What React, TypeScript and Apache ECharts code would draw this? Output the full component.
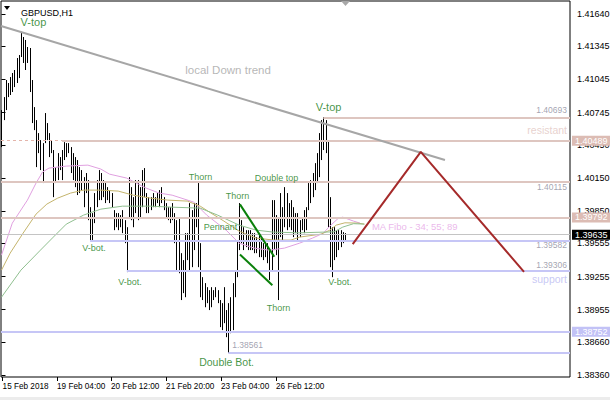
import React, { useEffect, useRef } from 'react';
import * as echarts from 'echarts';

const symbolTitle = 'GBPUSD,H1';

// hourly bars: high / low prices (bar index = hour step)
const barHigh = [
  1.40767, 1.40885, 1.41040, 1.41013, 1.41067, 1.41104, 1.41131, 1.41240, 1.41267, 1.41467,
  1.41431, 1.41404, 1.41340, 1.41331, 1.41040, 1.40794, 1.40676, 1.40558, 1.40494, 1.40467,
  1.40740, 1.40649, 1.40558, 1.40494, 1.40404, 1.40249, 1.40376, 1.40340, 1.40404, 1.40476,
  1.40467, 1.40467, 1.40431, 1.40376, 1.40340, 1.40313, 1.40249, 1.40222, 1.40158, 1.40195,
  1.40131, 1.39885, 1.39831, 1.40013, 1.40131, 1.40222, 1.40195, 1.40131, 1.40104, 1.40067,
  1.40040, 1.40013, 1.39858, 1.39831, 1.39831, 1.39813, 1.39858, 1.39767, 1.39703, 1.40158,
  1.40067, 1.39976, 1.40131, 1.40131, 1.40067, 1.40222, 1.40240, 1.40013, 1.39976, 1.39976,
  1.40013, 1.39976, 1.40013, 1.40040, 1.40067, 1.39976, 1.39922, 1.39885, 1.39885, 1.39922,
  1.39831, 1.39767, 1.39795, 1.39467, 1.39404, 1.39649, 1.39649, 1.39922, 1.39858, 1.39922,
  1.39922, 1.40104, 1.39558, 1.39249, 1.39195, 1.39158, 1.39131, 1.39158, 1.39131, 1.39158,
  1.39131, 1.39041, 1.39013, 1.39158, 1.38950, 1.39013, 1.39067, 1.39195, 1.39313, 1.39586,
  1.39922, 1.39767, 1.39703, 1.39676, 1.39676, 1.39676, 1.39649, 1.39649, 1.39613, 1.39649,
  1.39613, 1.39558, 1.39586, 1.39558, 1.39495, 1.39949, 1.39949, 1.39813, 1.39795, 1.40013,
  1.39885, 1.40067, 1.40013, 1.39922, 1.39949, 1.39885, 1.39831, 1.39831, 1.39767, 1.39795,
  1.39858, 1.39885, 1.40104, 1.40131, 1.40195, 1.40285, 1.40376, 1.40558, 1.40676, 1.40704,
  1.40676, 1.40494, 1.39976, 1.39703, 1.39703, 1.39676, 1.39676, 1.39676, 1.39658, 1.39649,
];
const barLow = [
  1.40431, 1.40676, 1.40767, 1.40885, 1.40904, 1.40931, 1.40976, 1.41013, 1.41058, 1.41249,
  1.41195, 1.41131, 1.41195, 1.40931, 1.40649, 1.40585, 1.40249, 1.40376, 1.40222, 1.40104,
  1.40467, 1.40494, 1.40340, 1.40376, 1.39976, 1.40104, 1.40131, 1.40222, 1.40131, 1.40313,
  1.40340, 1.40376, 1.40195, 1.40131, 1.40067, 1.39995, 1.40013, 1.40040, 1.39885, 1.40013,
  1.39767, 1.39586, 1.39586, 1.39740, 1.39885, 1.39949, 1.39949, 1.39976, 1.39922, 1.39949,
  1.39922, 1.39885, 1.39676, 1.39703, 1.39676, 1.39703, 1.39649, 1.39558, 1.39295, 1.39795,
  1.39767, 1.39703, 1.39831, 1.39767, 1.39795, 1.39885, 1.39976, 1.39831, 1.39831, 1.39858,
  1.39885, 1.39885, 1.39922, 1.39885, 1.39922, 1.39858, 1.39795, 1.39767, 1.39740, 1.39767,
  1.39558, 1.39313, 1.39285, 1.39041, 1.39104, 1.39067, 1.39404, 1.39313, 1.39340, 1.39495,
  1.39703, 1.39340, 1.39067, 1.39041, 1.38976, 1.39013, 1.38950, 1.38976, 1.39041, 1.39067,
  1.39013, 1.38795, 1.38768, 1.38831, 1.38704, 1.38561, 1.38740, 1.38768, 1.39067, 1.39249,
  1.39495, 1.39558, 1.39495, 1.39522, 1.39495, 1.39495, 1.39495, 1.39467, 1.39467, 1.39431,
  1.39431, 1.39404, 1.39431, 1.39376, 1.39222, 1.39313, 1.39495, 1.39449, 1.39041, 1.39613,
  1.39586, 1.39703, 1.39676, 1.39703, 1.39676, 1.39613, 1.39649, 1.39586, 1.39613, 1.39676,
  1.39649, 1.39676, 1.39858, 1.39922, 1.39976, 1.40040, 1.40104, 1.40158, 1.40313, 1.40404,
  1.40376, 1.39703, 1.39340, 1.39249, 1.39404, 1.39431, 1.39495, 1.39522, 1.39558, 1.39586,
];

// time axis labels (bar positions where the labels sit)
const timeTickPos = [0.5, 25.7, 50.7, 76.2, 101.6, 127.1];
const timeTickLabels = ['15 Feb 2018', '19 Feb 04:00', '20 Feb 12:00', '21 Feb 20:00', '23 Feb 04:00', '26 Feb 12:00'];

// price axis labels
const priceTicks = [1.41640, 1.41345, 1.41045, 1.40745, 1.40450, 1.40150, 1.39850, 1.39555, 1.39255, 1.38955, 1.38660, 1.38360];

// moving averages (MA Fibo 34; 55; 89), sampled [bar, price]
const ma34 = [
  [0, 1.39449], [5, 1.39740], [12, 1.39949], [16, 1.40104], [19, 1.40204], [22, 1.40240], [30, 1.40258],
  [40, 1.40267], [46, 1.40231], [50, 1.40185], [58, 1.40149], [67, 1.40058], [73, 1.40013], [79, 1.39994],
  [89, 1.39931], [95, 1.39813], [104, 1.39676], [110, 1.39558], [117, 1.39513], [124, 1.39494], [131, 1.39513],
  [138, 1.39558], [144, 1.39604], [149, 1.39649], [152, 1.39713], [156, 1.39785], [158, 1.39794], [163, 1.39758],
  [166, 1.39740],
];
const ma55 = [
  [0, 1.39313], [4, 1.39467], [10, 1.39649], [16, 1.39822], [21, 1.39913], [26, 1.39967], [32, 1.40013],
  [38, 1.40040], [46, 1.40040], [54, 1.40031], [61, 1.39994], [69, 1.39967], [77, 1.39949], [86, 1.39940],
  [92, 1.39894], [97, 1.39831], [103, 1.39758], [110, 1.39667], [118, 1.39604], [126, 1.39586], [134, 1.39586],
  [138, 1.39613], [148, 1.39640], [152, 1.39676], [155, 1.39722], [159, 1.39743], [165, 1.39740], [168, 1.39731],
];
const ma89 = [
  [0, 1.39067], [9, 1.39313], [18, 1.39494], [24, 1.39613], [30, 1.39731], [38, 1.39813], [46, 1.39867],
  [56, 1.39894], [69, 1.39894], [79, 1.39885], [92, 1.39876], [100, 1.39813], [110, 1.39722], [118, 1.39676],
  [126, 1.39658], [138, 1.39652], [154, 1.39661], [158, 1.39704], [163, 1.39735], [168, 1.39731],
];

// drawn objects
const trendLine = [[-0.23, 1.41531], [205.3, 1.40313]];
const forecastPath = [[162.6, 1.39549], [194.1, 1.40388], [241.9, 1.39297]];
const pennantUpper = [[110.4, 1.39910], [126.3, 1.39434]];
const pennantLower = [[110.4, 1.39455], [125.4, 1.39176]];

// horizontal levels
const levelPrices = [1.40693, 1.40489, 1.40115, 1.39792, 1.39635, 1.39582, 1.39306, 1.38752, 1.38561];
const levelStartBar = [149, 28, -0.23, -0.23, -0.23, 41, 58, -0.23, 105];
const levelKind = ['res', 'res', 'res', 'res', 'cur', 'sup', 'sup', 'sup', 'sup'];
const levelTagged = [false, true, false, true, true, false, false, true, false];
const resistantDashFrom = -0.23;
const resistantDashTo = 28;

// text notes anchored at [bar, price]
const noteTexts = ['V-top', 'local Down trend', 'V-top', 'Thorn', 'Double top', 'Thorn', 'Pennant', 'V-bot.', 'V-bot.', 'V-bot.',
  'Thorn', 'Double Bot.', '1.38561', 'MA Fibo - 34; 55; 89', 'resistant', 'support', '1.40693', '1.40115', '1.39582', '1.39306'];
const noteBars = [14.8, 104.9, 151.4, 92.1, 127.3, 109.3, 101.4, 42.8, 59.5, 156.7,
  128.2, 104.2, 113.9, 171.5, 261.8, 261.8, 261.8, 261.8, 261.8, 261.8];
const notePrices = [1.41567, 1.41131, 1.40794, 1.40158, 1.40149, 1.39985, 1.39704, 1.39513, 1.39204, 1.39204,
  1.38967, 1.38476, 1.38631, 1.39713, 1.40585, 1.39231, 1.40767, 1.40067, 1.39540, 1.39358];
const noteKind = ['big', 'trend', 'big', 'pat', 'pat', 'pat', 'pat', 'pat', 'pat', 'pat',
  'pat', 'bot', 'low', 'ma', 'res', 'sup', 'price', 'price', 'price', 'price'];

const FONT = '"Liberation Sans", Arial, sans-serif';
const PINK = '#dec6c0';
const LAV = '#c6c6f6';
const GREEN_TXT = '#127a12';

const noteStyles: Record<string, any> = {
  big: { color: GREEN_TXT, fontSize: 11, position: 'inside' },
  pat: { color: GREEN_TXT, fontSize: 9, position: 'inside' },
  bot: { color: GREEN_TXT, fontSize: 10.5, position: 'inside' },
  trend: { color: '#a4a4a4', fontSize: 11.5, position: 'inside' },
  price: { color: '#8c8c9c', fontSize: 8.5, position: 'left', distance: 0 },
  low: { color: '#8c8c9c', fontSize: 8.5, position: 'inside' },
  ma: { color: '#e6a6e6', fontSize: 9.5, position: 'right', distance: 0 },
  res: { color: '#e2c6c2', fontSize: 10.5, position: 'left', distance: 0 },
  sup: { color: '#babaf2', fontSize: 10.5, position: 'left', distance: 0 },
};

export default function App() {
  const ref = useRef<HTMLDivElement>(null);
  useEffect(() => {
    if (!ref.current) return;
    const chart = echarts.init(ref.current, null, { renderer: 'svg' });
    const xMin = -0.23;
    const xMax = 263.19;
    const yMin = 1.38342;
    const yMax = 1.41758;

    const bars = barHigh.map((h, i) => [i, h, barLow[i]]);

    const levelLineStyle = (k: string) => {
      if (k === 'res') return { color: PINK, width: 2, type: 'solid' };
      if (k === 'sup') return { color: LAV, width: 2, type: 'solid' };
      return { color: '#c4c4c4', width: 1, type: 'solid' };
    };
    const tagBg = (k: string) => (k === 'res' ? '#dcbcb4' : k === 'sup' ? '#c2c2f6' : '#000');

    const markData: any[] = levelPrices.map((p, i) => {
      const k = levelKind[i];
      const label = levelTagged[i]
        ? {
            show: true,
            position: 'end',
            distance: 2,
            formatter: () => p.toFixed(5),
            color: '#fff',
            backgroundColor: tagBg(k),
            fontSize: 9,
            fontFamily: FONT,
            padding: [1, 3, 0, 3],
          }
        : { show: false };
      return [
        { coord: [levelStartBar[i], p], lineStyle: levelLineStyle(k), label },
        { coord: [xMax, p] },
      ];
    });
    markData.push([
      { coord: [resistantDashFrom, levelPrices[1]], lineStyle: { color: '#e4b4aa', width: 1, type: [3, 3] }, label: { show: false } },
      { coord: [resistantDashTo, levelPrices[1]] },
    ]);

    const notes = noteTexts.map((t, i) => {
      const s = noteStyles[noteKind[i]];
      return {
        value: [noteBars[i], notePrices[i]],
        label: {
          show: true,
          formatter: t,
          color: s.color,
          fontSize: s.fontSize,
          fontFamily: FONT,
          position: s.position,
          distance: s.distance ?? 5,
        },
      };
    });

    const lineSeries = (data: number[][], color: string, width: number, z = 4) => ({
      type: 'line',
      data,
      symbol: 'none',
      silent: true,
      clip: true,
      z,
      lineStyle: { color, width },
    });

    const option: any = {
      animation: false,
      backgroundColor: '#fff',
      textStyle: { fontFamily: FONT },
      title: {
        text: symbolTitle,
        left: 16,
        top: 3,
        textStyle: { fontSize: 9, fontWeight: 'normal', color: '#000', fontFamily: FONT },
      },
      graphic: [
        { type: 'polygon', shape: { points: [[4, 6], [10, 6], [7, 10]] }, style: { fill: '#000' }, z: 10 },
        { type: 'polygon', shape: { points: [[341, 1], [350, 1], [345.5, 6]] }, style: { fill: '#a8a8a8' }, z: 10 },
        { type: 'rect', shape: { x: 0, y: 397, width: 610, height: 3 }, style: { fill: '#ececec' } },
      ],
      grid: {
        left: 1,
        right: 40,
        top: 1,
        bottom: 23,
        show: true,
        borderColor: '#000',
        borderWidth: 1,
        backgroundColor: '#fff',
        containLabel: false,
        outerBoundsMode: 'none',
      },
      xAxis: {
        type: 'value',
        min: xMin,
        max: xMax,
        axisLine: { show: false },
        splitLine: { show: false },
        axisTick: { show: true, length: 4, customValues: timeTickPos, lineStyle: { color: '#000' } },
        axisLabel: {
          customValues: timeTickPos,
          align: 'left',
          margin: 5,
          fontSize: 8.2,
          color: '#000',
          fontFamily: FONT,
          formatter: (v: number) => {
            const k = timeTickPos.findIndex((t) => Math.abs(t - v) < 0.01);
            return k >= 0 ? timeTickLabels[k] : '';
          },
        },
      },
      yAxis: {
        type: 'value',
        position: 'right',
        min: yMin,
        max: yMax,
        scale: true,
        axisLine: { show: false },
        splitLine: { show: false },
        axisTick: { show: true, length: 4, customValues: priceTicks, lineStyle: { color: '#000' } },
        axisLabel: {
          customValues: priceTicks,
          margin: 7,
          fontSize: 9,
          color: '#000',
          fontFamily: FONT,
          formatter: (v: number) => v.toFixed(5),
        },
      },
      series: [
        {
          type: 'line',
          data: [],
          silent: true,
          z: 1,
          markLine: {
            silent: true,
            symbol: ['none', 'none'],
            animation: false,
            data: markData,
          },
        },
        {
          type: 'custom',
          data: bars,
          clip: true,
          silent: true,
          z: 3,
          encode: { x: 0, y: [1, 2] },
          renderItem: (_p: any, api: any) => {
            const top = api.coord([api.value(0), api.value(1)]);
            const bot = api.coord([api.value(0), api.value(2)]);
            const x = Math.round(top[0]) + 0.5;
            return {
              type: 'line',
              shape: { x1: x, y1: top[1], x2: x, y2: bot[1] },
              style: { stroke: '#000', lineWidth: 1 },
            };
          },
        },
        lineSeries(ma34 as any, '#e0a0e0', 1),
        lineSeries(ma55 as any, '#c4b46c', 1),
        lineSeries(ma89 as any, '#8fbf8f', 1),
        lineSeries(trendLine as any, '#a6a6a6', 2, 5),
        lineSeries(forecastPath as any, '#a52a2a', 2, 5),
        lineSeries(pennantUpper as any, '#0a800a', 2, 5),
        lineSeries(pennantLower as any, '#0a800a', 2, 5),
        {
          type: 'scatter',
          data: notes,
          symbolSize: 0,
          silent: true,
          z: 6,
          itemStyle: { color: 'transparent' },
        },
      ],
    };
    chart.setOption(option);
    return () => chart.dispose();
  }, []);
  return (
    <div
      ref={ref}
      style={{ position: 'fixed', left: 0, top: 0, width: 610, height: 400, background: '#fff' }}
    />
  );
}
